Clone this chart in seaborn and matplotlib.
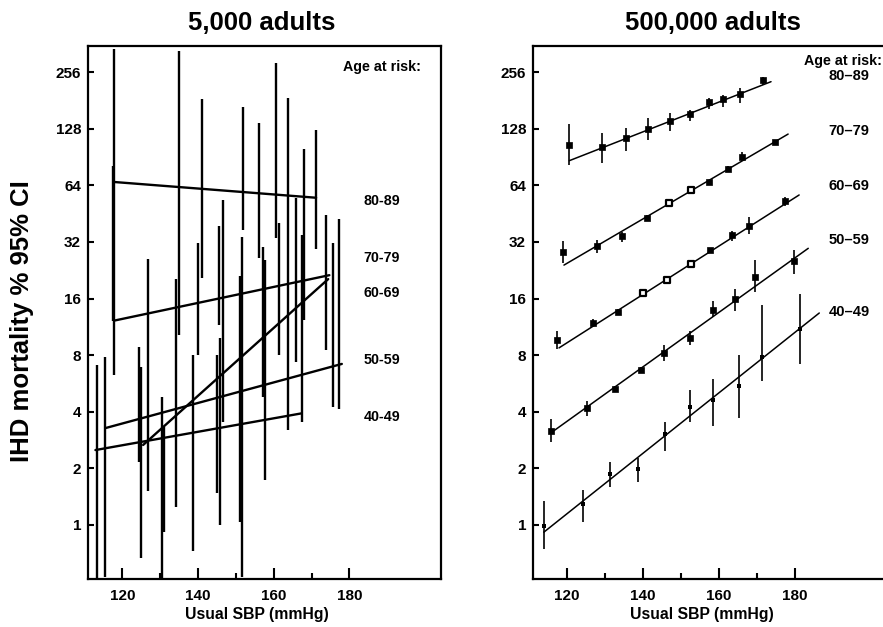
import matplotlib
matplotlib.use("Agg")
import matplotlib.pyplot as plt
from matplotlib.ticker import FixedLocator, FixedFormatter, NullLocator
import numpy as np
import pandas as pd
import seaborn as sns

sns.set_style("white")
plt.rcParams["font.family"] = ["Liberation Sans", "DejaVu Sans"]
plt.rcParams["font.weight"] = "bold"
plt.rcParams["text.color"] = "black"
plt.rcParams["axes.labelcolor"] = "black"
plt.rcParams["xtick.color"] = "black"
plt.rcParams["ytick.color"] = "black"

# ---------------------------------------------------------------- data
age_groups = ["40-49", "50-59", "60-69", "70-79", "80-89"]

# Small study (5,000 adults): 95% CI bars
small_sbp = [113.4, 115.5, 117.8, 117.5, 124.3, 124.9, 126.9, 130.5, 131.0,
             134.1, 134.9, 138.7, 140.0, 141.1, 144.9, 145.6, 145.8, 146.7,
             151.1, 151.5, 152.0, 156.2, 157.2, 157.6, 160.6, 161.4, 163.7,
             165.9, 167.5, 168.0, 171.2, 173.9, 175.7, 177.2]
small_hi = [7.1, 7.8, 340, 81, 8.85, 6.9, 26.0, 4.8, 3.3, 20.3, 332, 8.0,
            31.6, 184, 8.0, 38.9, 9.9, 53.5, 21.1, 34.0, 167, 137, 30.1, 25.7,
            286, 40.4, 187, 54.9, 34.9, 100, 126, 44.6, 31.6, 42.4]
small_lo = [0.45, 0.53, 6.3, 12.2, 2.16, 0.67, 1.52, 0.45, 0.92, 1.25, 10.2,
            0.73, 8.0, 20.6, 1.48, 11.6, 1.0, 3.53, 1.04, 0.53, 37.1, 26.3,
            4.8, 1.73, 33.6, 8.0, 3.2, 7.36, 3.53, 12.3, 29.4, 8.53, 4.24, 4.14]

# Small study fitted lines (start / end) per age group
small_fit_x0 = [112.9, 115.5, 125.5, 117.8, 117.9]
small_fit_x1 = [167.4, 178.0, 174.4, 174.7, 171.2]
small_fit_y0 = [2.5, 3.27, 2.66, 12.2, 66.7]
small_fit_y1 = [3.92, 7.18, 20.3, 21.3, 55.0]

# Large study (500,000 adults): points with 95% CI per age group
large_sbp = {
    "40-49": [113.9, 124.3, 131.3, 138.8, 145.8, 152.4, 158.3, 165.3, 171.2, 181.3],
    "50-59": [115.8, 125.2, 132.6, 139.5, 145.6, 152.4, 158.3, 164.3, 169.5, 179.7],
    "60-69": [117.3, 126.9, 133.5, 140.1, 146.2, 152.6, 157.6, 163.4, 168.0, 177.4],
    "70-79": [118.9, 127.8, 134.4, 141.1, 146.8, 152.6, 157.5, 162.5, 166.1, 174.7],
    "80-89": [120.6, 129.3, 135.5, 141.4, 147.1, 152.5, 157.3, 161.1, 165.5, 171.5],
}
large_rate = {
    "40-49": [0.99, 1.29, 1.87, 1.98, 3.05, 4.22, 4.59, 5.46, 7.8, 11.0],
    "50-59": [3.17, 4.19, 5.29, 6.7, 8.24, 9.85, 13.9, 15.9, 20.8, 25.4],
    "60-69": [9.67, 11.9, 13.6, 17.1, 20.2, 24.4, 29.0, 34.8, 39.1, 52.7],
    "70-79": [28.4, 30.6, 34.3, 42.9, 51.6, 60.5, 67.0, 78.0, 91.0, 108.5],
    "80-89": [105, 103, 114, 127, 140, 153, 178, 184, 196, 234],
}
large_lo = {
    "40-49": [0.745, 1.04, 1.59, 1.69, 2.48, 3.54, 3.37, 3.69, 5.86, 7.18],
    "50-59": [2.75, 3.81, 5.1, 6.5, 7.47, 9.0, 12.7, 13.8, 17.3, 21.6],
    "60-69": [8.6, 11.4, 13.1, 16.6, 19.6, 23.7, 28.2, 32.5, 35.3, 50.0],
    "70-79": [24.7, 27.9, 32.1, 41.5, 50.0, 59.0, 65.5, 75.0, 86.0, 105.0],
    "80-89": [82, 84, 97, 112, 124, 140, 164, 168, 175, 218],
}
large_hi = {
    "40-49": [1.34, 1.54, 2.16, 2.26, 3.54, 5.24, 5.98, 8.0, 14.7, 16.9],
    "50-59": [3.66, 4.58, 5.5, 6.9, 9.0, 10.8, 15.6, 18.0, 25.5, 29.1],
    "60-69": [10.8, 12.4, 14.1, 17.6, 20.8, 25.1, 29.8, 36.8, 43.3, 55.5],
    "70-79": [32.5, 32.8, 36.1, 44.5, 53.0, 62.0, 68.5, 81.0, 96.0, 112.0],
    "80-89": [135, 122, 130, 146, 155, 162, 186, 194, 211, 240],
}

# Large study fitted lines (start / end) per age group
large_fit_x0 = [113.9, 116.0, 117.9, 119.2, 120.6]
large_fit_x1 = [186.4, 183.5, 181.1, 178.2, 173.7]
large_fit_y0 = [0.914, 3.11, 8.74, 24.1, 86.6]
large_fit_y1 = [13.4, 29.6, 56.9, 120.0, 228.0]

# Label positions (y) for the age groups
small_label_y = [3.75, 7.55, 17.1, 26.3, 52.8]
large_label_y = [13.6, 32.8, 63.6, 124.6, 244.0]

y_ticks = [1, 2, 4, 8, 16, 32, 64, 128, 256]
x_ticks = [120, 140, 160, 180]

# ---------------------------------------------------------------- figure
W, H = 883, 627
fig = plt.figure(figsize=(W / 100, H / 100), dpi=100)
ax1 = fig.add_axes([88 / W, 1 - 579 / H, 353 / W, 533 / H])
ax2 = fig.add_axes([533 / W, 1 - 579 / H, 352 / W, 533 / H])


def style_axis(ax, xlim):
    ax.set_yscale("log", base=2)
    ax.set_ylim(0.515, 353)
    ax.set_xlim(*xlim)
    ax.yaxis.set_major_locator(FixedLocator(y_ticks))
    ax.yaxis.set_major_formatter(FixedFormatter([str(v) for v in y_ticks]))
    ax.yaxis.set_minor_locator(NullLocator())
    ax.xaxis.set_major_locator(FixedLocator(x_ticks))
    ax.xaxis.set_minor_locator(FixedLocator([130, 150, 170]))
    ax.tick_params(axis="x", which="major", direction="in", length=8, width=1.5,
                   labelsize=11, pad=7, bottom=True, colors="black")
    ax.tick_params(axis="x", which="minor", direction="in", length=4.3, width=1.5,
                   bottom=True, colors="black")
    ax.tick_params(axis="y", which="major", direction="in", length=4.3, width=1.5,
                   labelsize=11, pad=5, left=True, colors="black")
    for lab in ax.get_xticklabels() + ax.get_yticklabels():
        lab.set_fontweight("bold")
    for sp in ax.spines.values():
        sp.set_linewidth(1.6)
        sp.set_color("black")
    ax.set_xlabel("")
    ax.set_ylabel("")


# ---- left panel: 5,000 adults
ax1.vlines(small_sbp, small_lo, small_hi, colors="black", linewidth=1.7)
small_fit = pd.DataFrame({
    "sbp": small_fit_x0 + small_fit_x1,
    "rate": small_fit_y0 + small_fit_y1,
    "age": age_groups * 2,
})
sns.lineplot(data=small_fit, x="sbp", y="rate", units="age", estimator=None,
             color="black", linewidth=1.7, ax=ax1, legend=False)
style_axis(ax1, (110.94, 204.2))

ax1.text(188.6, 273, "Age at risk:", ha="center", va="center", fontsize=10.3,
         fontweight="bold", color="black")
for g, yv in zip(age_groups, small_label_y):
    ax1.text(188.6, yv, g, ha="center", va="center", fontsize=10.3,
             fontweight="bold", color="black")

# ---- right panel: 500,000 adults
hollow = {"60-69": [3, 4, 5], "70-79": [4, 5]}
rows = []
for g in age_groups:
    for i, (x, r, lo, hi) in enumerate(zip(large_sbp[g], large_rate[g],
                                            large_lo[g], large_hi[g])):
        rows.append({"sbp": x, "rate": r, "lo": lo, "hi": hi, "age": g,
                     "hollow": i in hollow.get(g, [])})
large = pd.DataFrame(rows)

ax2.vlines(large["sbp"], large["lo"], large["hi"], colors="black", linewidth=1.2)
large_fit = pd.DataFrame({
    "sbp": large_fit_x0 + large_fit_x1,
    "rate": large_fit_y0 + large_fit_y1,
    "age": age_groups * 2,
})
sns.lineplot(data=large_fit, x="sbp", y="rate", units="age", estimator=None,
             color="black", linewidth=1.1, ax=ax2, legend=False)

young = large[large["age"] == "40-49"]
older_filled = large[(large["age"] != "40-49") & (~large["hollow"])]
older_hollow = large[large["hollow"]]
sns.scatterplot(data=young, x="sbp", y="rate", marker="s", s=6, color="black",
                edgecolor="black", linewidth=0, ax=ax2, legend=False, zorder=3)
sns.scatterplot(data=older_filled, x="sbp", y="rate", marker="s", s=18,
                color="black", edgecolor="black", linewidth=0.5, ax=ax2,
                legend=False, zorder=3)
sns.scatterplot(data=older_hollow, x="sbp", y="rate", marker="s", s=18,
                color="white", edgecolor="black", linewidth=1.6, ax=ax2,
                legend=False, zorder=3)
style_axis(ax2, (111.05, 203.7))

ax2.text(202.9, 294, "Age at risk:", ha="right", va="center", fontsize=10.3,
         fontweight="bold", color="black")
for g, yv in zip(age_groups, large_label_y):
    ax2.text(194.2, yv, g.replace("-", "\u2013"), ha="center", va="center",
             fontsize=10.5, fontweight="bold", color="black")

# ---- shared text
fig.text(262 / W, 1 - 23 / H, "5,000 adults", ha="center", va="center",
         fontsize=18.5, fontweight="bold", color="black")
fig.text(713 / W, 1 - 23 / H, "500,000 adults", ha="center", va="center",
         fontsize=18.5, fontweight="bold", color="black")
fig.text(257 / W, 1 - 615 / H, "Usual SBP (mmHg)", ha="center", va="center",
         fontsize=11.3, fontweight="bold", color="black")
fig.text(702 / W, 1 - 615 / H, "Usual SBP (mmHg)", ha="center", va="center",
         fontsize=11.3, fontweight="bold", color="black")
fig.text(22 / W, 1 - 321 / H, "IHD mortality % 95% CI", ha="center",
         va="center", rotation=90, fontsize=18.5, fontweight="bold",
         color="black")

fig.savefig("out.png", dpi=100)
